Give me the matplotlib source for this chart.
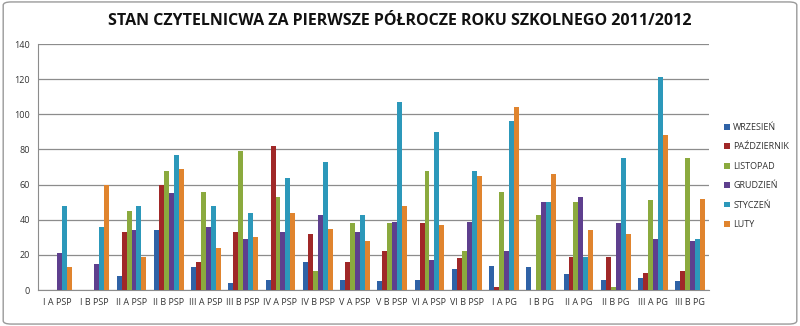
import numpy as np
import matplotlib.pyplot as plt
from matplotlib.patches import FancyBboxPatch

klasy = ['I A PSP', 'I B PSP', 'II A PSP', 'II B PSP', 'III A PSP', 'III B PSP',
         'IV A PSP', 'IV B PSP', 'V A PSP', 'V B PSP', 'VI A PSP', 'VI B PSP',
         'I A PG', 'I B PG', 'II A PG', 'II B PG', 'III A PG', 'III B PG']

wrzesien    = [0, 0, 8, 34, 13, 4, 6, 16, 6, 5, 6, 12, 14, 13, 9, 6, 7, 5]
pazdziernik = [0, 0, 33, 60, 16, 33, 82, 32, 16, 22, 38, 18, 2, 0, 19, 19, 10, 11]
listopad    = [0, 0, 45, 68, 56, 79, 53, 11, 38, 38, 68, 22, 56, 43, 50, 2, 51, 75]
grudzien    = [21, 15, 34, 55, 36, 29, 33, 43, 33, 39, 17, 39, 22, 50, 53, 38, 29, 28]
styczen     = [48, 36, 48, 77, 48, 44, 64, 73, 43, 107, 90, 68, 96, 50, 19, 75, 121, 29]
luty        = [13, 60, 19, 69, 24, 30, 44, 35, 28, 48, 37, 65, 104, 66, 34, 32, 88, 52]

miesiace = ['WRZESIEŃ', 'PAŹDZIERNIK', 'LISTOPAD', 'GRUDZIEŃ', 'STYCZEŃ', 'LUTY']
serie = [wrzesien, pazdziernik, listopad, grudzien, styczen, luty]
kolory = ['#2F62A6', '#A02828', '#8BAA3E', '#5E3F8E', '#2C98BA', '#E0842E']

plt.rcParams['font.family'] = ['Open Sans', 'DejaVu Sans']

fig = plt.figure(figsize=(8, 3.26), dpi=100)
fig.patches.append(FancyBboxPatch((0.004, 0.006), 0.992, 0.988,
                                  boxstyle='round,pad=0,rounding_size=0.01',
                                  transform=fig.transFigure, fill=False,
                                  edgecolor='#9a9a9a', linewidth=1.0))

ax = fig.add_axes([0.048, 0.11, 0.838, 0.755])

x = np.arange(len(klasy))
n = len(serie)
w = 1 / (n + 1.5)
for i, (dane, nazwa, kol) in enumerate(zip(serie, miesiace, kolory)):
    ax.bar(x - 0.5 + 0.75 * w + (i + 0.5) * w, dane, width=w, color=kol,
           label=nazwa, zorder=3)

ax.set_xlim(-0.5, len(klasy) - 0.5)
ax.set_ylim(0, 140)
ax.set_yticks(range(0, 141, 20))
ax.set_xticks(x)
ax.set_xticklabels(klasy)
ax.tick_params(axis='both', labelsize=6.5, colors='#333333', length=0, pad=6)
ax.grid(axis='y', color='#8c8c8c', linewidth=0.9, zorder=0)
for s in ['top', 'right']:
    ax.spines[s].set_visible(False)
for s in ['left', 'bottom']:
    ax.spines[s].set_color('#8c8c8c')
    ax.spines[s].set_linewidth(0.8)

fig.text(0.5, 0.935, 'STAN CZYTELNICWA ZA PIERWSZE PÓŁROCZE ROKU SZKOLNEGO 2011/2012',
         ha='center', va='center', fontsize=11.5, fontweight='bold', color='#111111')

fig.legend(loc='center left', bbox_to_anchor=(0.895, 0.46), frameon=False,
           fontsize=6.5, handlelength=0.6, handleheight=0.6, handletextpad=0.4,
           labelspacing=1.15, labelcolor='#333333')

fig.savefig('out.png', dpi=100)
